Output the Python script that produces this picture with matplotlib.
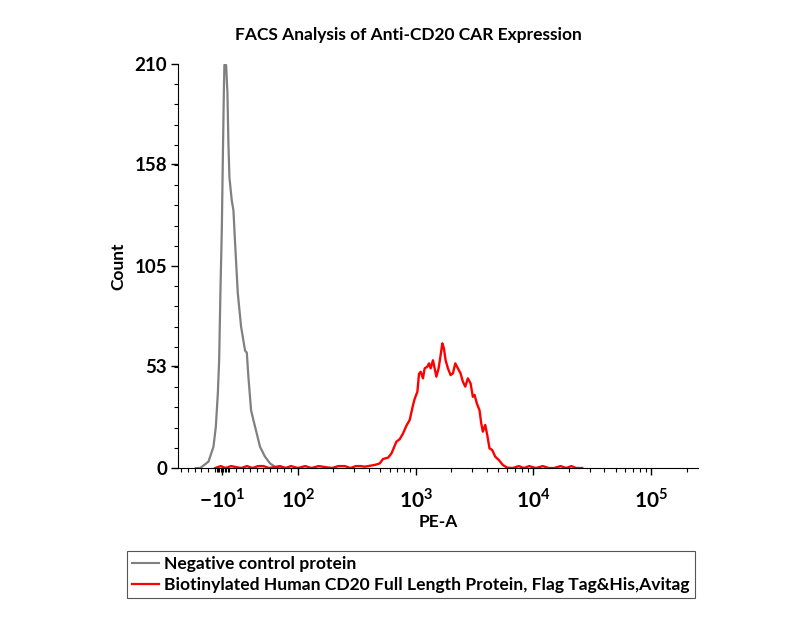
import matplotlib
matplotlib.use("Agg")
import matplotlib.pyplot as plt
from matplotlib.lines import Line2D

plt.rcParams['font.family'] = ['Lato', 'DejaVu Sans']
plt.rcParams['mathtext.fontset'] = 'custom'
plt.rcParams['mathtext.bf'] = 'Lato:bold'
plt.rcParams['mathtext.rm'] = 'Lato'

# ---- data (PE-A value, count) ----
neg_x = [-48, -41.8, -29.8, -22.6, -19.1, -16.2, -14.3, -12.5, -10.4, -9.0, -7.5,
         -6.7, -4.2, -2.3, -0.9, 0.6, 4.0, 6.4, 8.8, 12.7, 17.5, 23.3, 25.8,
         28.1, 32.0, 35.3, 40.2, 45.0, 52.2, 59.5, 69.2, 80]
neg_y = [0, 0, 3.3, 11, 21.5, 39, 56, 91, 125, 160, 195,
         209.5, 209.5, 195, 169, 151, 139, 134, 117, 91, 73.5, 61, 60,
         47.5, 30, 25, 18, 11, 5.9, 2.4, 0, 0]

pos_x = [-20, -12, -5, 3, 10, 18, 26, 34, 42, 50, 58, 66, 74, 82, 90, 100,
         115, 130, 150, 170, 195, 220, 250, 280, 310, 340,
         369.6, 449, 495, 528, 583, 623, 686, 732, 781, 834, 890, 949, 981,
         1034, 1067, 1103, 1153, 1192, 1257, 1297, 1340, 1402, 1449, 1498,
         1566, 1629, 1684, 1737, 1796, 1878, 1980, 2071, 2170, 2283, 2406,
         2516, 2637, 2775, 2925, 3059, 3162, 3307, 3486, 3604, 3718, 3897,
         4052, 4238, 4467, 4736, 5080, 5494, 5986, 6677,
         7500, 8300, 9200, 10500, 12000, 13500, 15000, 17000, 19000, 21000,
         23000, 26000]
pos_y = [0, 1, 0, 1, 0.5, 0, 1, 0, 1, 1, 0, 0.5, 1, 0, 1, 0,
         1, 0, 1, 0.5, 0, 1, 1, 0, 1, 1,
         0.7, 1.6, 2.4, 4.7, 5.4, 7.6, 13.7, 15, 18, 22, 25, 32.7, 36,
         39.7, 49, 50, 46.6, 51.8, 52.7, 54.4, 51.8, 56, 51.8, 47.5,
         51.8, 58.7, 64.8, 62.2, 56, 51.8, 48.3, 49.2, 54.4, 51.8, 49.2,
         44.9, 42.3, 46.6, 44, 37, 38, 33.6, 30, 23.2, 18.9, 22.4,
         17.2, 10.2, 9.4, 5.9, 4.2, 1.6, 0.2, 0,
         1, 0, 1, 0, 1, 0, 0, 1, 0, 1, 0, 0]

y_ticks = [0, 53, 105, 158, 210]
x_ticks = [-10, 100, 1000, 10000, 100000]
x_labels = [r'$\mathbf{-10}^{\mathbf{1}}$', r'$\mathbf{10}^{\mathbf{2}}$',
            r'$\mathbf{10}^{\mathbf{3}}$', r'$\mathbf{10}^{\mathbf{4}}$',
            r'$\mathbf{10}^{\mathbf{5}}$']
labels = ['Negative control protein',
          'Biotinylated Human CD20 Full Length Protein, Flag Tag&His,Avitag']

fig = plt.figure(figsize=(8, 6.3), dpi=100)
ax = fig.add_axes([0.2225, 0.2571, 0.65, 0.6413])

ax.plot(neg_x, neg_y, color='#808080', lw=1.6)
ax.plot(pos_x, pos_y, color='#ff0000', lw=1.7)

ax.set_xscale('symlog', linthresh=100, linscale=0.527)
ax.set_xlim(-74, 250000)
ax.set_ylim(0, 210)

ax.spines['top'].set_visible(False)
ax.spines['right'].set_visible(False)

ax.set_xticks(x_ticks)
ax.set_xticklabels(x_labels, fontsize=15)
minor_x = [v for v in range(-70, 100, 10) if v not in (-10, 0)]
minor_x += [-8, -6, -4, -2, 0, -12, -14, -16, -18]
for d in (100, 1000, 10000, 100000):
    minor_x += [k * d for k in range(2, 10) if k * d < 250000]
ax.set_xticks(minor_x, minor=True)

ax.set_yticks(y_ticks)
ax.set_yticklabels([str(v) for v in y_ticks], fontsize=13.5, fontweight='bold')
ax.set_yticks([v * 10.5 for v in range(21)], minor=True)

ax.tick_params(which='major', length=5, width=1, direction='out', pad=3)
ax.tick_params(which='minor', length=3, width=0.8, direction='out')
ax.tick_params(axis='x', which='major', pad=9)

ax.set_xlabel('PE-A', fontsize=12.5, fontweight='bold', labelpad=2)
ax.set_ylabel('Count', fontsize=12.5, fontweight='bold', labelpad=6)

fig.text(0.51, 0.944, 'FACS Analysis of Anti-CD20 CAR Expression',
         ha='center', va='center', fontsize=12.5, fontweight='bold')

handles = [Line2D([], [], color='#808080', lw=1.5),
           Line2D([], [], color='#ff0000', lw=1.6)]
leg = fig.legend(handles, labels, loc='upper left',
                 bbox_to_anchor=(127 / 800, 1 - 551 / 630),
                 fancybox=False, edgecolor='#555555', framealpha=1,
                 handlelength=1.5, handletextpad=0.3, labelspacing=0.25,
                 borderpad=0.3, borderaxespad=0,
                 prop={'size': 12.6, 'weight': 'bold'})
leg.get_frame().set_linewidth(0.8)

fig.savefig('out.png', dpi=100)
